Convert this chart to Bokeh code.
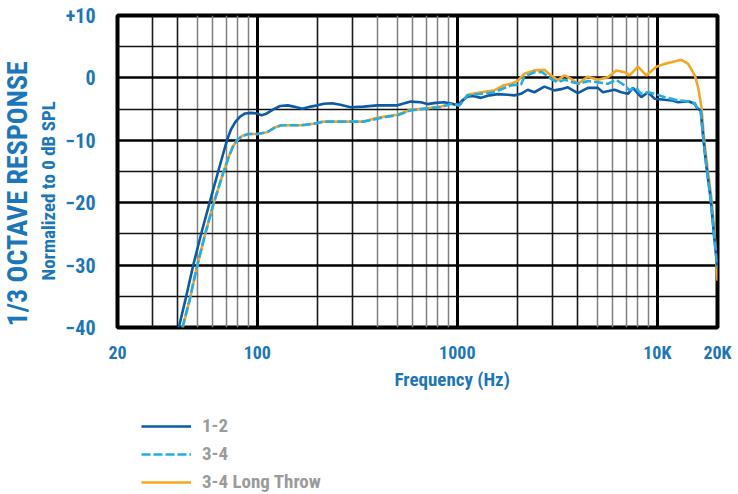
from bokeh.plotting import figure
from bokeh.layouts import column
from bokeh.models import (FixedTicker, Grid, Legend, LegendItem, Title)
from bokeh.embed import file_html
from bokeh.resources import INLINE

# ---------------- data ----------------
freq_12 = [40.5, 43.6, 48, 52.9, 58.2, 64, 70.5, 74, 77.6, 82, 87, 93, 100, 105, 110, 121, 130, 142, 152, 168,
           185, 200, 215, 237, 260, 293, 340, 398, 450, 502, 585, 657, 709, 780, 859, 930, 1002, 1060, 1125, 1200,
           1313, 1450, 1592, 1786, 1928, 2083, 2249, 2428, 2725, 3059, 3300, 3568, 4005, 4496, 5047, 5346, 6114,
           6603, 7131, 7553, 8315, 8990, 9706, 10892, 11800, 12714, 14270, 15400, 15700, 16490, 16960, 17620,
           18520, 19260, 20000]
db_12 = [-40, -35.7, -29.8, -24.5, -19.6, -14.8, -10.0, -8.2, -7.1, -6.2, -5.7, -5.6, -5.7, -6.0, -5.8, -5.0,
         -4.5, -4.4, -4.6, -4.95, -4.6, -4.4, -4.15, -4.05, -4.3, -4.7, -4.6, -4.4, -4.4, -4.4, -3.8, -3.9, -4.2,
         -4.0, -3.9, -4.1, -4.4, -3.6, -3.0, -2.9, -3.2, -2.8, -2.6, -2.7, -2.8, -2.55, -1.9, -2.3, -1.4, -2.0,
         -1.8, -1.5, -2.45, -1.6, -1.6, -2.3, -1.9, -2.3, -2.55, -1.6, -3.1, -2.3, -3.35, -3.5, -3.6, -3.9,
         -3.75, -4.15, -4.7, -5.3, -9.5, -14.3, -19.6, -25.5, -30.5]

freq_34 = [42.2, 45.8, 49.9, 54.9, 60.4, 66.5, 71.9, 75.5, 79.2, 84, 90, 100, 112, 123, 132, 141, 165, 191, 215,
           260, 341, 398, 450, 502, 585, 681, 830, 930, 1025, 1125, 1313, 1531, 1786, 1855, 2083, 2164, 2428,
           2660, 2944, 3177, 3432, 3775, 4080, 4496, 5047, 5663, 6230, 6863, 7270, 7740, 8315, 8990, 9706, 10892,
           12714, 14270, 15400, 15700, 16490, 16960, 17620, 18520, 19260, 20000]
db_34 = [-40, -35.7, -30.3, -25.0, -20.2, -15.9, -12.7, -11.0, -10.0, -9.3, -9.0, -9.0, -8.7, -7.9, -7.6, -7.6,
         -7.6, -7.35, -7.0, -7.0, -7.0, -6.55, -6.2, -6.0, -5.2, -4.95, -4.7, -4.15, -4.4, -2.8, -2.55, -2.3,
         -1.4, -1.2, -1.05, 0.2, 0.9, 0.9, -0.15, -0.7, -0.3, -0.7, -0.95, -0.5, -0.7, -0.95, -0.3, -1.2, -2.0,
         -1.5, -2.55, -2.3, -2.55, -3.1, -3.6, -3.75, -4.05, -4.6, -5.3, -9.5, -14.3, -19.6, -25.5, -30.5]

freq_lt = [42.4, 45.8, 49.9, 54.9, 60.4, 66.5, 71.9, 75.5, 79.2, 84, 90, 100, 112, 123, 132, 141, 165, 191, 215,
           260, 341, 398, 450, 502, 585, 681, 830, 930, 1025, 1125, 1313, 1531, 1700, 1855, 2000, 2164, 2428,
           2725, 2944, 3177, 3432, 3705, 4005, 4496, 5047, 5663, 6230, 6863, 7270, 8008, 8810, 9890, 10892,
           11750, 13200, 14270, 15400, 16000, 16630, 17100, 17800, 18700, 19400, 20000]
db_lt = [-40, -35.7, -30.3, -25.0, -20.2, -15.9, -12.7, -11.0, -10.0, -9.3, -9.0, -9.0, -8.7, -7.9, -7.6, -7.6,
         -7.6, -7.35, -7.0, -7.0, -7.0, -6.4, -6.1, -5.9, -5.1, -4.9, -4.6, -4.1, -4.4, -2.7, -2.3, -2.0, -1.2,
         -0.95, -0.5, 0.65, 1.2, 1.3, 0.4, -0.4, 0.4, -0.15, -0.95, 0.2, -0.3, 0.1, 1.2, 0.9, 0.4, 1.8, 0.4, 1.8,
         2.25, 2.5, 2.9, 2.25, 0.4, -1.5, -4.7, -9.5, -14.3, -19.6, -25.5, -32.5]

series_names = ["1-2", "3-4", "3-4 Long Throw"]

x_tick_vals = [20, 100, 1000, 10000, 20000]
x_tick_text = ["20", "100", "1000", "10K", "20K"]
y_tick_vals = [-40, -30, -20, -10, 0, 10]
y_tick_text = ["\u221240", "\u221230", "\u221220", "\u221210", "0", "+10"]

x_title = "Frequency (Hz)"
y_title = "1/3 OCTAVE RESPONSE"
y_subtitle = "Normalized to 0 dB SPL"

# ---------------- style ----------------
FONT = "Roboto Condensed"
BLUE_TXT = "#1b76bc"
C12 = "#0c5aa8"
C34 = "#22ade6"
CLT = "#f6a623"

p = figure(width=738, height=400, x_axis_type="log", x_range=(20, 20000), y_range=(-40, 10),
           output_backend="svg", toolbar_location=None,
           min_border_left=116, min_border_right=21, min_border_top=15, min_border_bottom=73)
p.background_fill_color = "white"
p.border_fill_color = "white"
p.outline_line_color = "black"
p.outline_line_width = 4
p.xgrid.visible = False
p.ygrid.visible = False

yax = p.yaxis[0]
yax.ticker = FixedTicker(ticks=y_tick_vals)
yax.major_label_overrides = {v: t for v, t in zip(y_tick_vals, y_tick_text)}
yax.axis_line_color = None
yax.major_tick_line_color = None
yax.minor_tick_line_color = None
yax.major_label_standoff = 16
yax.major_label_text_font = FONT
yax.major_label_text_font_style = "bold"
yax.major_label_text_font_size = "20px"
yax.major_label_text_color = BLUE_TXT

xax = p.xaxis[0]
xax.ticker = FixedTicker(ticks=x_tick_vals)
xax.major_label_overrides = {v: t for v, t in zip(x_tick_vals, x_tick_text)}
xax.axis_line_color = None
xax.major_tick_line_color = None
xax.minor_tick_line_color = None
xax.major_label_standoff = 8
xax.major_label_text_font = FONT
xax.major_label_text_font_style = "bold"
xax.major_label_text_font_size = "18px"
xax.major_label_text_color = BLUE_TXT

# grids
def add_grid(dim, ticks, color, width):
    g = Grid(dimension=dim, ticker=FixedTicker(ticks=ticks))
    g.grid_line_color = color
    g.grid_line_width = width
    p.add_layout(g)

add_grid(0, [50, 60, 70, 80, 90, 400, 500, 600, 700, 800, 900, 5000, 6000, 7000, 8000, 9000], "#808080", 1.5)
add_grid(0, [30, 40, 200, 300, 2000, 3000, 4000], "#1a1a1a", 1.6)
add_grid(0, [100, 1000, 10000], "black", 3)
add_grid(1, [5, -5, -15, -25, -35], "#111111", 1.4)
add_grid(1, [0, -10, -20, -30], "black", 2.6)

# curves
r_lt = p.line(freq_lt, db_lt, line_color=CLT, line_width=2.6)
r_12 = p.line(freq_12, db_12, line_color=C12, line_width=2.6)
r_34 = p.line(freq_34, db_34, line_color=C34, line_width=2.6, line_dash="9 3")

# titles in side panels
t_sub = Title(text=y_subtitle, align="left", offset=47, text_font=FONT,
              text_font_style="bold", text_font_size="19px", text_color=BLUE_TXT, standoff=5)
p.add_layout(t_sub, "left")
t_main = Title(text=y_title, align="left", offset=1, text_font=FONT,
               text_font_style="bold", text_font_size="28px", text_color=BLUE_TXT, standoff=-3)
p.add_layout(t_main, "left")

t_x = Title(text=x_title, align="left", offset=277, text_font=FONT,
            text_font_style="bold", text_font_size="19px", text_color=BLUE_TXT, standoff=0)
p.add_layout(t_x, "below")

# legend in its own strip below the chart; the swatch renderers hold one
# point each (outside the strip's ranges), so only the legend is visible
q = figure(width=738, height=94, x_range=(0, 1), y_range=(0, 1),
           output_backend="svg", toolbar_location=None,
           min_border_left=0, min_border_right=0, min_border_top=0, min_border_bottom=0)
q.axis.visible = False
q.grid.visible = False
q.outline_line_color = None
q.background_fill_color = "white"
q.border_fill_color = "white"
g12 = q.line(x=freq_12[:1], y=db_12[:1], line_color=C12, line_width=2.6)
g34 = q.line(x=freq_34[:1], y=db_34[:1], line_color=C34, line_width=2.6, line_dash="9 3")
glt = q.line(x=freq_lt[:1], y=db_lt[:1], line_color=CLT, line_width=2.6)
legend = Legend(items=[LegendItem(label=series_names[0], renderers=[g12]),
                       LegendItem(label=series_names[1], renderers=[g34]),
                       LegendItem(label=series_names[2], renderers=[glt])],
                location=(24, 1))
legend.background_fill_alpha = 0
legend.border_line_color = None
legend.padding = 0
legend.margin = 0
legend.spacing = 5
legend.glyph_width = 50
legend.glyph_height = 20
legend.label_height = 20
legend.label_standoff = 11
legend.label_text_font = FONT
legend.label_text_font_style = "bold"
legend.label_text_font_size = "19px"
legend.label_text_color = "#9b9b9b"
q.add_layout(legend, "center")

layout = column(p, q, spacing=0)
open("out.html", "w").write(file_html(layout, INLINE))
